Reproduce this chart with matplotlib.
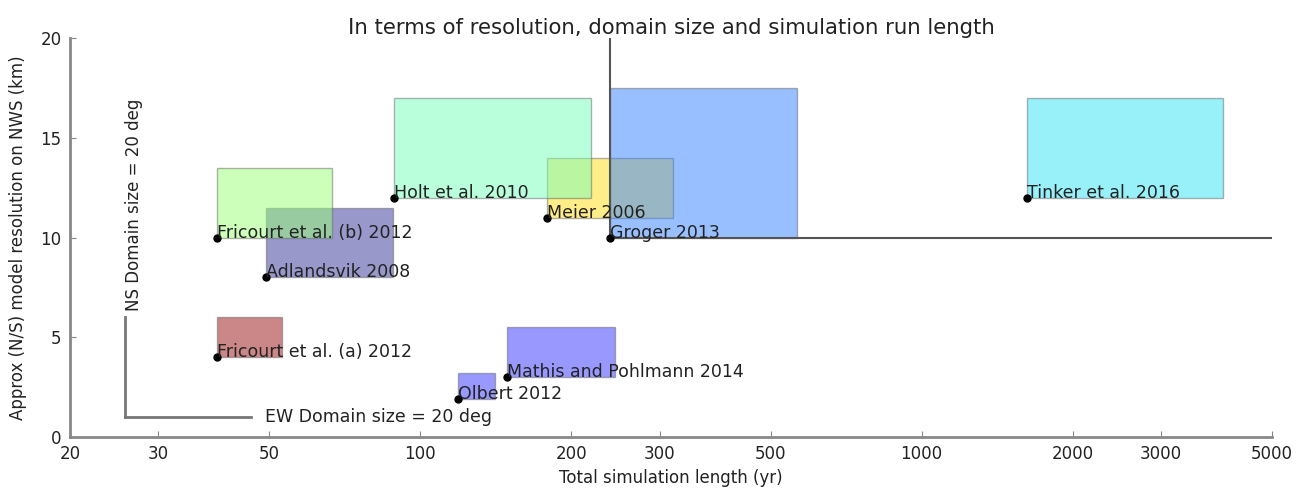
import numpy as np
import matplotlib
matplotlib.use('Agg')
import matplotlib.pyplot as plt
from matplotlib.patches import Rectangle

# Model studies: start point = (run length, resolution), box = domain size
studies = ["Adlandsvik 2008", "Fricourt et al. (b) 2012", "Meier 2006", "Holt et al. 2010",
           "Groger 2013", "Tinker et al. 2016", "Fricourt et al. (a) 2012", "Olbert 2012",
           "Mathis and Pohlmann 2014"]
run_length = [49.2, 39.3, 178.6, 88.6, 238.8, 1624, 39.3, 119, 149]
resolution = [8, 10, 11, 12, 10, 12, 4, 1.9, 3]
box_end = [88.1, 66.6, 319, 219, 564, 4000, 52.9, 141, 244]
box_height = [3.5, 3.5, 3, 5, 7.5, 5, 2, 1.3, 2.5]
box_colors = ['#333399', '#99ff77', '#ffdd11', '#77ffbb', '#3380ff', '#33e5f5',
              '#991111', '#3333ff', '#3333ff']

xticks = [20, 30, 50, 100, 200, 300, 500, 1000, 2000, 3000, 5000]
yticks = [0, 5, 10, 15, 20]

txt = '#222222'

fig = plt.figure(figsize=(12.96, 4.88), dpi=100)
ax = fig.add_axes([0.054, 0.1045, 0.9275, 0.8175])
ax.set_xscale('log')

for i in range(len(studies)):
    ax.add_patch(Rectangle((run_length[i], resolution[i]), box_end[i] - run_length[i], box_height[i],
                           facecolor=box_colors[i], edgecolor='#666666', linewidth=1, alpha=0.5, zorder=2))

# Groger domain extends off the chart
ax.plot([238.8, 238.8], [10, 20], color='#555555', linewidth=1.5, zorder=3)
ax.plot([238.8, 5000], [10, 10], color='#555555', linewidth=1.5, zorder=3)

ax.plot(run_length, resolution, 'o', color='black', markersize=5, zorder=5)
for i in range(len(studies)):
    ax.text(run_length[i], resolution[i], studies[i], fontsize=12.5, color=txt, zorder=6)

# Scale key
ax.plot([25.7, 25.7], [1, 6], color='#777777', linewidth=2)
ax.plot([25.7, 46], [1, 1], color='#777777', linewidth=2)
ax.text(25.7, 6.3, 'NS Domain size = 20 deg', rotation=90, ha='left', va='bottom', fontsize=12, color=txt)
ax.text(49, 1, 'EW Domain size = 20 deg', va='center', fontsize=12.5, color=txt)

ax.set_xlim(20, 5000)
ax.set_ylim(0, 20)
ax.set_xticks(xticks)
ax.set_xticklabels([str(t) for t in xticks])
ax.xaxis.set_minor_locator(matplotlib.ticker.NullLocator())
ax.set_yticks(yticks)
ax.tick_params(direction='in', length=4, color='#888888', labelsize=12, labelcolor=txt, pad=6)

for s in ['top', 'right']:
    ax.spines[s].set_visible(False)
for s in ['left', 'bottom']:
    ax.spines[s].set_color('#888888')
    ax.spines[s].set_linewidth(2)

ax.set_title('In terms of resolution, domain size and simulation run length', fontsize=15.3, color=txt, pad=3)
ax.set_xlabel('Total simulation length (yr)', fontsize=12, color=txt)
ax.set_ylabel('Approx (N/S) model resolution on NWS (km)', fontsize=12, color=txt, labelpad=10)

fig.savefig('out.png', dpi=100)
